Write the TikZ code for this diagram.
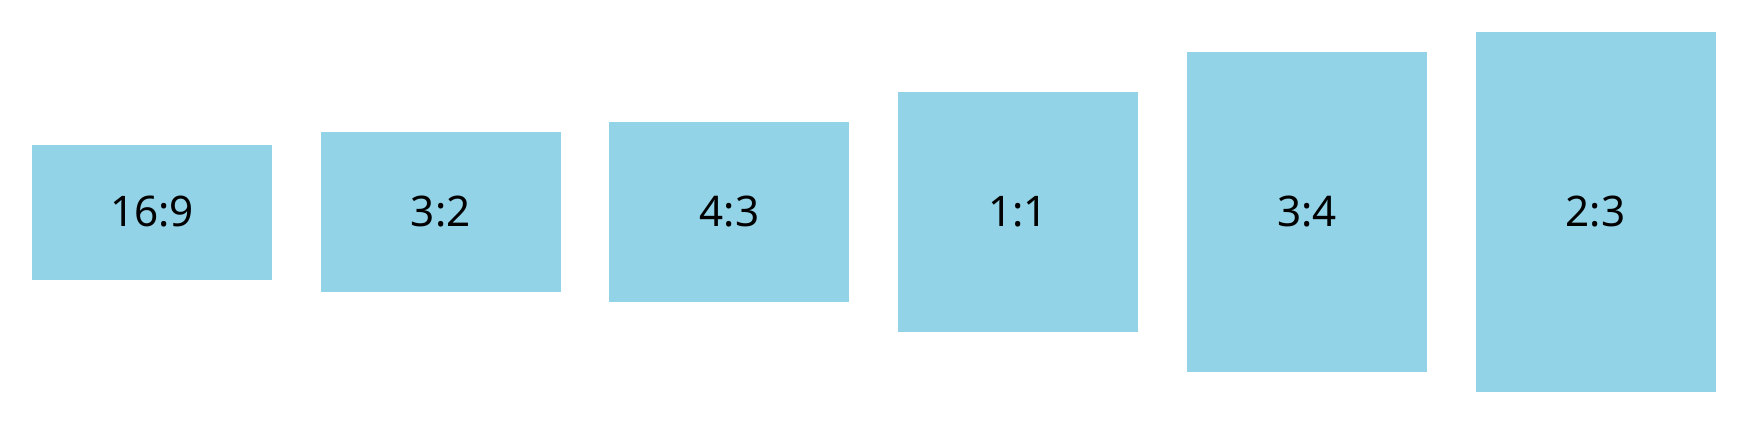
\documentclass[tikz,border=0pt]{standalone}
\usepackage{fontspec}
\setmainfont{Noto Sans}
\usepackage{xcolor}
\usepackage{tikz}
\usetikzlibrary{positioning}
\definecolor{ratioblue}{RGB}{147,211,231}

\begin{document}
\begin{tikzpicture}[node distance=0.96cm, auto,
  box/.style={rectangle, fill=ratioblue, minimum width=4.8cm, inner sep=0pt, font=\fontsize{24}{28}\selectfont}]
\useasboundingbox (0,0) rectangle (34.88,8.48);
\node[box, minimum height=2.7cm] (wide) at (3.04,4.24) {16:9};
\node[box, minimum height=3.2cm, right=of wide] (photo) {3:2};
\node[box, minimum height=3.6cm, right=of photo] (classic) {4:3};
\node[box, minimum height=4.8cm, right=of classic] (square) {1:1};
\node[box, minimum height=6.4cm, right=of square] (portrait) {3:4};
\node[box, minimum height=7.2cm, right=of portrait] (tall) {2:3};
\end{tikzpicture}
\end{document}
